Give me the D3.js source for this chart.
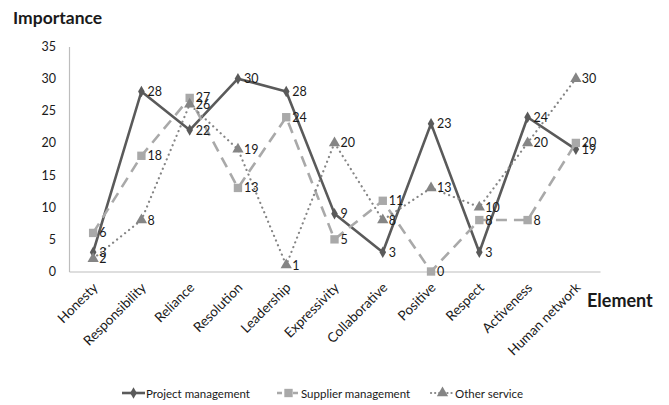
<!DOCTYPE html>
<html>
<head>
<meta charset="utf-8">
<script src="https://cdn.jsdelivr.net/npm/d3@7"></script>
<style>
  html, body { margin: 0; padding: 0; background: #fff; }
  svg { display: block; }
  text { font-family: Lato, "Open Sans", sans-serif; fill: #1a1a1a; }
</style>
</head>
<body>
<svg id="chart" width="669" height="405"></svg>
<script>
// Importance ratings per element, for three service areas
const elements = ["Honesty", "Responsibility", "Reliance", "Resolution", "Leadership",
  "Expressivity", "Collaborative", "Positive", "Respect", "Activeness", "Human network"];
const projectManagement = [3, 28, 22, 30, 28, 9, 3, 23, 3, 24, 19];
const supplierManagement = [6, 18, 27, 13, 24, 5, 11, 0, 8, 8, 20];
const otherService = [2, 8, 26, 19, 1, 20, 8, 13, 10, 20, 30];
const yTicks = [0, 5, 10, 15, 20, 25, 30, 35];

const seriesList = [
  { name: "Project management", values: projectManagement, color: "#5a5a5a",
    width: 2.6, dash: null, cap: "butt", marker: "diamond" },
  { name: "Supplier management", values: supplierManagement, color: "#a9a9a9",
    width: 2.6, dash: "11,7", cap: "butt", marker: "square" },
  { name: "Other service", values: otherService, color: "#858585",
    width: 2.2, dash: "0.1,5", cap: "round", marker: "triangle" }
];

const svg = d3.select("#chart");
const plotLeft = 69, plotRight = 600, plotTop = 46.5, plotBottom = 271.5;

const x = d3.scalePoint().domain(elements).range([plotLeft, plotRight]).padding(0.5);
const y = d3.scaleLinear().domain([0, 35]).range([plotBottom, plotTop]);

// Axes
const yAxis = svg.append("g").attr("transform", `translate(${plotLeft},0)`)
  .call(d3.axisLeft(y).tickValues(yTicks).tickSize(0).tickPadding(13));
yAxis.select(".domain").attr("stroke", "#bdbdbd").attr("stroke-width", 1.2);
yAxis.selectAll("text").style("font-size", "12.5px").attr("fill", "#222");

const xAxis = svg.append("g").attr("transform", `translate(0,${plotBottom})`)
  .call(d3.axisBottom(x).tickSize(0).tickPadding(0));
xAxis.select(".domain").attr("stroke", "#bdbdbd").attr("stroke-width", 1.2);
xAxis.selectAll("text")
  .style("font-size", "13.5px")
  .attr("fill", "#222")
  .attr("text-anchor", "end")
  .attr("dy", 0)
  .attr("transform", "translate(5,17) rotate(-45)");

// Axis titles
svg.append("text").attr("x", 13).attr("y", 24)
  .style("font-size", "17.5px").style("font-weight", "bold").text("Importance");
svg.append("text").attr("x", 587).attr("y", 307)
  .style("font-size", "18px").style("font-weight", "bold").text("Element");

const markerPath = {
  diamond: d3.symbol().type(d3.symbolDiamond).size(38),
  square: d3.symbol().type(d3.symbolSquare).size(70),
  triangle: d3.symbol().type(d3.symbolTriangle).size(55)
};

const line = d3.line().x((d, i) => x(elements[i])).y(d => y(d));

seriesList.forEach(s => {
  const g = svg.append("g");
  g.append("path").datum(s.values)
    .attr("d", line)
    .attr("fill", "none")
    .attr("stroke", s.color)
    .attr("stroke-width", s.width)
    .attr("stroke-linecap", s.cap)
    .attr("stroke-linejoin", "round")
    .attr("stroke-dasharray", s.dash);
  g.selectAll("path.mk").data(s.values).join("path")
    .attr("class", "mk")
    .attr("d", markerPath[s.marker])
    .attr("transform", (d, i) => `translate(${x(elements[i])},${y(d)})`)
    .attr("fill", s.color);
});

// Value labels beside each point
seriesList.forEach(s => {
  svg.append("g").selectAll("text").data(s.values).join("text")
    .attr("x", (d, i) => x(elements[i]) + 6)
    .attr("y", d => y(d) + 4.5)
    .style("font-size", "12.5px")
    .attr("fill", "#222")
    .text(d => d);
});

// Legend
const legendX = [122, 277, 431];
seriesList.forEach((s, i) => {
  const lg = svg.append("g").attr("transform", `translate(${legendX[i]},393)`);
  lg.append("line").attr("x1", 0).attr("x2", 23).attr("y1", 0).attr("y2", 0)
    .attr("stroke", s.color).attr("stroke-width", s.width)
    .attr("stroke-linecap", s.cap)
    .attr("stroke-dasharray", s.dash === null ? null : (s.marker === "square" ? "5,3" : "0.1,4"));
  lg.append("path").attr("d", markerPath[s.marker])
    .attr("transform", "translate(11.5,0)").attr("fill", s.color);
  lg.append("text").attr("x", 24).attr("y", 4.5)
    .style("font-size", "11.5px").attr("fill", "#222").text(s.name);
});
</script>
</body>
</html>
